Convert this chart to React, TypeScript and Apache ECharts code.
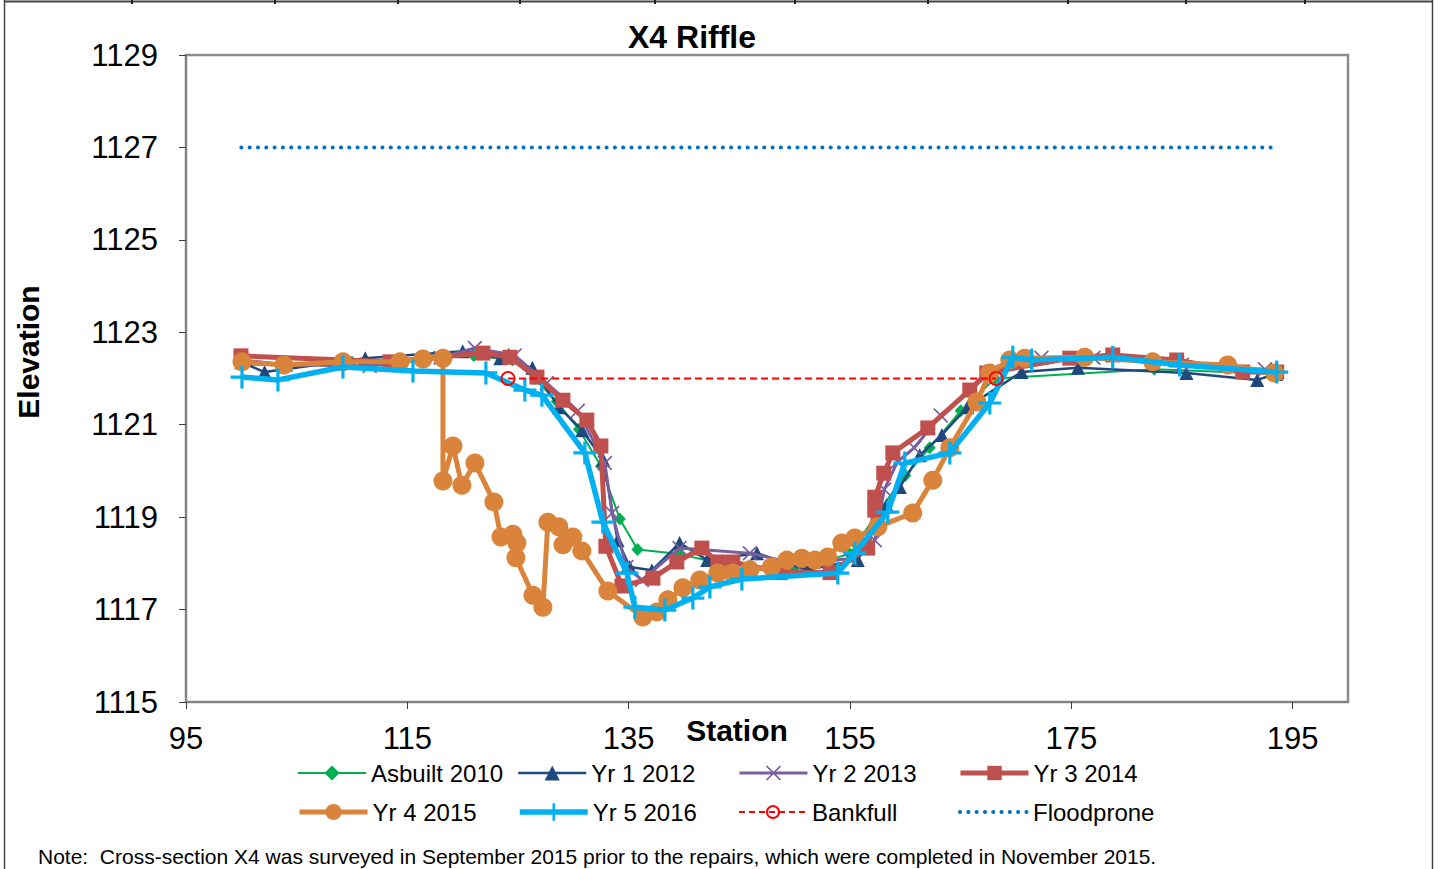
import React, { useEffect, useRef } from "react";
import * as echarts from "echarts";

const FONT = "'Liberation Sans', Arial, sans-serif";

const xTicks = [95, 115, 135, 155, 175, 195];
const yTicks = [1115, 1117, 1119, 1121, 1123, 1125, 1127, 1129];

const asbuilt2010 = [
  [100, 1122.3], [104, 1122.3], [110, 1122.35], [116, 1122.4], [121, 1122.5], [124.5, 1122.4],
  [126.5, 1122.0], [128.5, 1121.5], [130.5, 1120.9], [132.5, 1120.1], [134.2, 1118.96],
  [135.8, 1118.3], [139.6, 1118.2], [142.3, 1118.05], [146, 1117.95], [150, 1117.9],
  [155, 1118.2], [157.5, 1119.1], [160, 1119.9], [162.2, 1120.5], [165, 1121.3],
  [168.1, 1122.0], [182.5, 1122.2], [193.4, 1122.1],
];

const yr1_2012 = [
  [100, 1122.35], [102.1, 1122.14], [111.2, 1122.44], [120.0, 1122.59], [123.4, 1122.44],
  [126.3, 1122.23], [128.7, 1121.38], [130.8, 1120.88], [132.7, 1120.24], [134.0, 1118.5],
  [135.1, 1117.92], [137.1, 1117.85], [139.6, 1118.44], [142.1, 1118.07], [146.6, 1118.22],
  [151.1, 1117.86], [155.7, 1118.07], [158.3, 1119.26], [159.5, 1119.65], [161.3, 1120.34],
  [163.3, 1120.78], [165.6, 1121.38], [170.5, 1122.14], [175.6, 1122.23], [185.4, 1122.12],
  [191.8, 1121.97], [193.5, 1122.1],
];

const yr2_2013 = [
  [100, 1122.4], [104, 1122.3], [111.6, 1122.27], [118, 1122.45], [121.1, 1122.66],
  [124.7, 1122.5], [127.6, 1121.9], [130.4, 1121.3], [132.85, 1120.17], [133.5, 1119.09],
  [134.8, 1117.92], [136.2, 1117.64], [139.6, 1118.33], [145.95, 1118.22], [150, 1118.0],
  [155, 1118.1], [157.24, 1118.5], [158.1, 1119.6], [159.3, 1120.2], [160.8, 1120.5],
  [163.2, 1121.2], [167.8, 1122.15], [172.3, 1122.45], [177, 1122.45], [185, 1122.3],
  [192.5, 1122.2],
];

const yr3_2014 = [
  [99.97, 1122.49], [113.43, 1122.36], [121.83, 1122.55], [124.27, 1122.46], [126.71, 1122.03],
  [129.06, 1121.53], [131.22, 1121.1], [132.49, 1120.54], [132.94, 1118.37], [134.39, 1117.51],
  [137.19, 1117.68], [139.35, 1118.03], [141.61, 1118.33], [143.06, 1118.03], [144.41, 1118.03],
  [148.7, 1117.8], [153.2, 1117.8], [156.6, 1118.33], [157.24, 1119.15], [157.24, 1119.43],
  [158.05, 1119.95], [158.87, 1120.39], [162.03, 1120.93], [165.82, 1121.75], [167.36, 1122.12],
  [174.86, 1122.44], [178.74, 1122.51], [184.52, 1122.4], [190.48, 1122.14], [193.56, 1122.14],
];

const yr4_2015 = [
  [100.06, 1122.36], [103.85, 1122.29], [109.18, 1122.36], [114.33, 1122.36], [116.41, 1122.42],
  [118.22, 1122.44], [118.22, 1119.78], [119.12, 1120.54], [119.93, 1119.69], [121.11, 1120.17],
  [122.82, 1119.33], [123.46, 1118.57], [124.54, 1118.63], [124.9, 1118.44], [124.81, 1118.12],
  [126.35, 1117.31], [127.25, 1117.05], [127.7, 1118.89], [128.69, 1118.79], [129.06, 1118.4],
  [129.96, 1118.57], [130.77, 1118.27], [133.12, 1117.4], [136.28, 1116.84], [137.55, 1116.95],
  [138.54, 1117.21], [139.9, 1117.47], [141.43, 1117.64], [143.06, 1117.79], [144.41, 1117.79],
  [145.95, 1117.86], [147.9, 1117.92], [149.29, 1118.07], [150.65, 1118.11], [151.82, 1118.07],
  [152.99, 1118.14], [154.26, 1118.44], [155.43, 1118.55], [157.51, 1118.79], [160.67, 1119.09],
  [162.48, 1119.8], [164.02, 1120.5], [166.46, 1121.49], [167.63, 1122.12], [169.44, 1122.4],
  [170.79, 1122.44], [176.21, 1122.46], [182.35, 1122.36], [189.13, 1122.29], [193.37, 1122.12],
];

const yr5_2016 = [
  [100.06, 1122.03], [103.31, 1121.97], [109.18, 1122.25], [115.51, 1122.16], [122.1, 1122.12],
  [125.62, 1121.75], [127.16, 1121.64], [131.04, 1120.39], [132.67, 1118.89], [134.84, 1117.79],
  [135.56, 1117.05], [138.27, 1116.99], [140.8, 1117.25], [142.34, 1117.49], [145.23, 1117.66],
  [153.9, 1117.79], [155.43, 1118.22], [158.41, 1119.11], [159.95, 1120.17], [164.02, 1120.39],
  [167.63, 1121.47], [169.71, 1122.46], [171.42, 1122.4], [178.74, 1122.46], [184.79, 1122.29],
  [193.56, 1122.14],
];

const bankfull = [[124.1, 1122.0], [168.2, 1122.0]];
const floodprone = [[100, 1127.0], [193.5, 1127.0]];

const seriesNames = [
  "Asbuilt 2010", "Yr 1 2012", "Yr 2 2013", "Yr 3 2014",
  "Yr 4 2015", "Yr 5 2016", "Bankfull", "Floodprone",
];

const noteText =
  "Note:  Cross-section X4 was surveyed in September 2015 prior to the repairs, which were completed in November 2015.";

const PLUS =
  "path://M0,43 L43,43 L43,0 L57,0 L57,43 L100,43 L100,57 L57,57 L57,100 L43,100 L43,57 L0,57 Z";
const CROSS =
  "path://M0,8 L8,0 L50,42 L92,0 L100,8 L58,50 L100,92 L92,100 L50,58 L8,100 L0,92 L42,50 Z";

export default function App() {
  const ref = useRef<HTMLDivElement>(null);
  useEffect(() => {
    if (!ref.current) return;
    const chart = echarts.init(ref.current, null, { renderer: "svg" });

    const legendPos = [
      [297, 773], [517, 773], [738, 773], [958, 773],
      [297, 812], [517, 812], [738, 812], [958, 812],
    ];
    const legendIconH = [19, 19, 19, 18, 20, 22, 15, 14];
    const legendLine: any[] = [
      { width: 2 }, { width: 2.5 }, { width: 3 }, { width: 5 }, { width: 5 }, { width: 5.5 },
      { width: 2, type: [6, 4] }, { width: 4, type: [0.1, 8.2], cap: "round" },
    ];
    const legends = seriesNames.map((n, i) => {
      const h = legendIconH[i];
      const lg: any = {
        data: [n],
        left: legendPos[i][0],
        top: legendPos[i][1] - Math.max(h, 26) / 2,
        padding: 0,
        itemWidth: 68,
        itemHeight: h,
        lineStyle: legendLine[i],
        textStyle: { fontSize: 24, color: "#000", fontFamily: FONT, lineHeight: 26 },
        selectedMode: false,
      };
      if (i === 7) lg.itemStyle = { opacity: 0 };
      return lg;
    });

    const topTicks = [132, 275, 398, 520, 655, 795, 928, 1068, 1186, 1305];

    const option: any = {
      animation: false,
      backgroundColor: "#fff",
      grid: {
        left: 186, top: 55, width: 1162, height: 647,
        show: true, borderColor: "#8c8c8c", borderWidth: 2.5, containLabel: false,
      },
      legend: legends,
      xAxis: {
        type: "value", min: 95, max: 200,
        axisLine: { show: true, onZero: false, lineStyle: { color: "#7f7f7f", width: 1.5 } },
        axisTick: { show: true, inside: false, length: 7, customValues: xTicks, lineStyle: { color: "#404040", width: 1 } },
        axisLabel: { customValues: xTicks, fontSize: 31, color: "#000", fontFamily: FONT, margin: 21, formatter: (v: number) => String(v) },
        splitLine: { show: false },
      },
      yAxis: {
        type: "value", min: 1115, max: 1129,
        axisLine: { show: true, onZero: false, lineStyle: { color: "#7f7f7f", width: 1.5 } },
        axisTick: { show: true, inside: false, length: 7, customValues: yTicks, lineStyle: { color: "#404040", width: 1 } },
        axisLabel: { customValues: yTicks, fontSize: 31, color: "#000", fontFamily: FONT, margin: 28, formatter: (v: number) => String(v) },
        splitLine: { show: false },
      },
      graphic: [
        {
          type: "text", x: 692, y: 37,
          style: { text: "X4 Riffle", fontSize: 32, fontWeight: "bold", fill: "#000", fontFamily: FONT, align: "center", verticalAlign: "middle" },
        },
        {
          type: "text", x: 737, y: 730,
          style: { text: "Station", fontSize: 30, fontWeight: "bold", fill: "#000", fontFamily: FONT, align: "center", verticalAlign: "middle" },
        },
        {
          type: "text", x: 28, y: 352, rotation: Math.PI / 2,
          style: { text: "Elevation", fontSize: 30, fontWeight: "bold", fill: "#000", fontFamily: FONT, align: "center", verticalAlign: "middle" },
        },
        {
          type: "text", x: 38, y: 856,
          style: { text: noteText, fontSize: 21, fill: "#000", fontFamily: FONT, align: "left", verticalAlign: "middle" },
        },
        { type: "line", shape: { x1: 4, y1: 1.5, x2: 1433, y2: 1.5 }, style: { stroke: "#444", lineWidth: 2 } },
        { type: "line", shape: { x1: 4.5, y1: 0, x2: 4.5, y2: 869 }, style: { stroke: "#444", lineWidth: 1.5 } },
        { type: "line", shape: { x1: 1432.5, y1: 0, x2: 1432.5, y2: 869 }, style: { stroke: "#444", lineWidth: 1.5 } },
        ...topTicks.map((x) => ({
          type: "line", shape: { x1: x, y1: 0, x2: x, y2: 4 }, style: { stroke: "#222", lineWidth: 2 },
        })),
      ],
      series: [
        {
          name: seriesNames[0], type: "line", data: asbuilt2010, z: 2,
          symbol: "diamond", symbolSize: [12, 13],
          lineStyle: { color: "#00B050", width: 2 }, itemStyle: { color: "#00B050" },
        },
        {
          name: seriesNames[1], type: "line", data: yr1_2012, z: 3,
          symbol: "triangle", symbolSize: 14,
          lineStyle: { color: "#1F497D", width: 2.5 }, itemStyle: { color: "#1F497D" },
        },
        {
          name: seriesNames[2], type: "line", data: yr2_2013, z: 4,
          symbol: CROSS, symbolSize: 15,
          lineStyle: { color: "#7A5FA0", width: 3 }, itemStyle: { color: "#7A5FA0" },
        },
        {
          name: seriesNames[3], type: "line", data: yr3_2014, z: 5,
          symbol: "rect", symbolSize: 15,
          lineStyle: { color: "#C0504D", width: 5 }, itemStyle: { color: "#C0504D" },
        },
        {
          name: seriesNames[4], type: "line", data: yr4_2015, z: 6,
          symbol: "circle", symbolSize: 19,
          lineStyle: { color: "#D9843A", width: 5 }, itemStyle: { color: "#D9843A" },
        },
        {
          name: seriesNames[5], type: "line", data: yr5_2016, z: 7,
          symbol: PLUS, symbolSize: 23,
          lineStyle: { color: "#00B0F0", width: 5.5 }, itemStyle: { color: "#00B0F0" },
        },
        {
          name: seriesNames[6], type: "line", data: bankfull, z: 8,
          symbol: "circle", symbolSize: 13,
          lineStyle: { color: "#FF0000", width: 2, type: [7, 4] },
          itemStyle: { color: "rgba(255,255,255,0)", borderColor: "#FF0000", borderWidth: 1.8 },
        },
        {
          name: seriesNames[7], type: "line", data: floodprone, z: 9,
          symbol: "none",
          lineStyle: { color: "#0070C0", width: 4, type: [0.1, 8.2], cap: "round" },
          itemStyle: { color: "#0070C0" },
        },
      ],
    };
    chart.setOption(option);
    return () => chart.dispose();
  }, []);

  return (
    <div
      ref={ref}
      style={{ position: "fixed", left: 0, top: 0, width: 1444, height: 869, background: "#fff" }}
    />
  );
}
